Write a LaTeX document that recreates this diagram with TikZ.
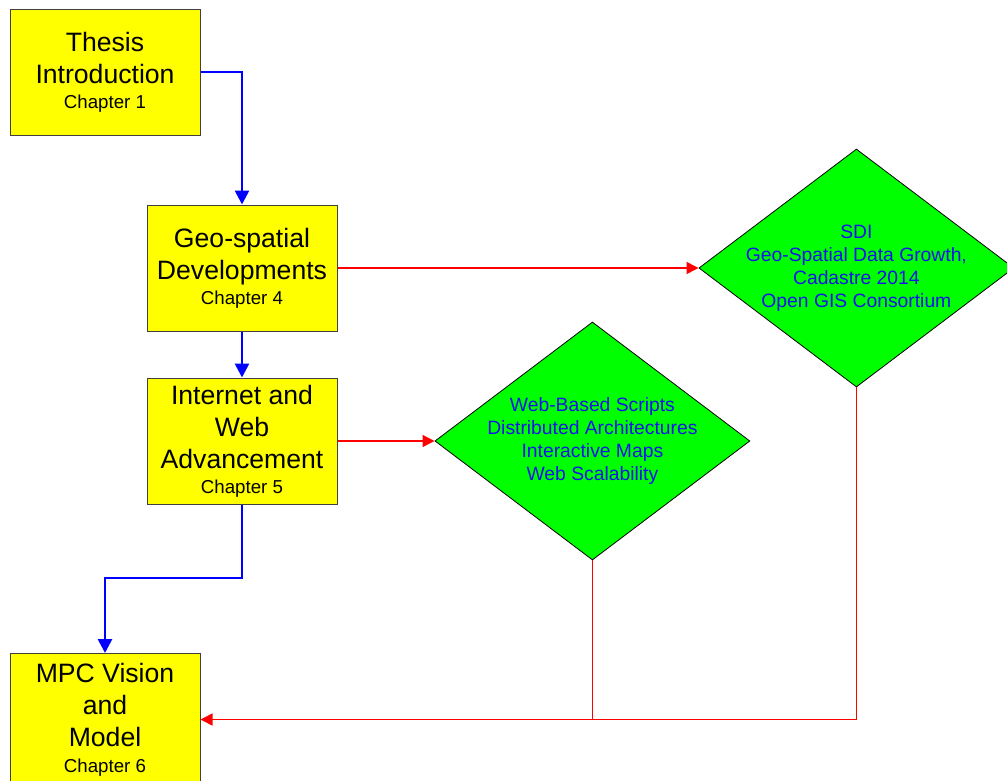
\documentclass[tikz,border=0pt]{standalone}
\usepackage{fontspec}
\setmainfont{Liberation Sans}
\usetikzlibrary{arrows.meta,shapes.geometric,positioning}
\newcommand{\bigtxt}{\fontsize{26.6}{32}\selectfont}
\newcommand{\chaptxt}{\fontsize{18.7}{22}\selectfont}
\newcommand{\topictxt}{\fontsize{19.3}{23}\selectfont}
\definecolor{boxyellow}{RGB}{255,255,0}
\definecolor{topicgreen}{RGB}{0,255,0}
\definecolor{lineblue}{RGB}{0,0,255}
\definecolor{linered}{RGB}{255,0,0}
\definecolor{topicblue}{RGB}{20,20,235}
\tikzset{
chapbox/.style={
  rectangle,
  draw=black!75,
  fill=boxyellow,
  line width=1pt,
  minimum width=190pt,
  minimum height=126pt,
  inner sep=0pt,
  align=center,
  font=\bigtxt
  },
topic/.style={
  diamond,
  draw=black,
  fill=topicgreen,
  line width=0.8pt,
  aspect=1.32,
  minimum width=315pt,
  minimum height=238pt,
  inner sep=-6pt,
  align=center,
  text=topicblue,
  font=\topictxt
  }
}
\tikzset{
  blueline/.style={draw=lineblue,line width=2.7pt,
    -{Triangle[length=14pt,width=14pt]}},
  redline/.style={draw=linered,line width=1.5pt,
    -{Triangle[length=12pt,width=12pt]}}
}

\begin{document}
\begin{tikzpicture}[x=1pt,y=-1pt]
\useasboundingbox (0,0) rectangle (1007,780);

% chapters
\node[chapbox] (intro) at (105,72)
  {Thesis\\Introduction\\[-7pt]{\chaptxt Chapter 1}};
\node[chapbox] (geo) at (242,268)
  {Geo-spatial\\Developments\\[-7pt]{\chaptxt Chapter 4}};
\node[chapbox,below=46pt of geo] (inet)
  {Internet and\\Web\\Advancement\\[-7pt]{\chaptxt Chapter 5}};
\node[chapbox,anchor=north,minimum height=132pt] (mpc) at (105,653)
  {MPC Vision\\and\\Model\\[-6pt]{\chaptxt Chapter 6}};

% topics
\node[topic,right=361pt of geo] (sdi)
  {SDI\\Geo-Spatial Data Growth,\\Cadastre 2014\\Open GIS Consortium};
\node[topic,right=97pt of inet] (web)
  {Web-Based Scripts\\Distributed Architectures\\Interactive Maps\\Web Scalability};

% chapter order
\begin{scope}
\coordinate(bend) at (242,578);

\draw[blueline] (intro.east) -| (geo.north);
\draw[blueline] (geo.south) -- (inet.north);
\draw[blueline] (inet.south) -- (bend) -| (mpc.north);
\end{scope}

% topics into the model
\begin{scope}
\coordinate(join) at (web.south |- mpc.east);

\draw[redline] (geo.east) -- (sdi.west);
\draw[redline] (inet.east) -- (web.west);
\draw[redline] (sdi.south) |- (mpc.east);
\draw[redline,-] (web.south) -- (join);
\end{scope}

\end{tikzpicture}
\end{document}
